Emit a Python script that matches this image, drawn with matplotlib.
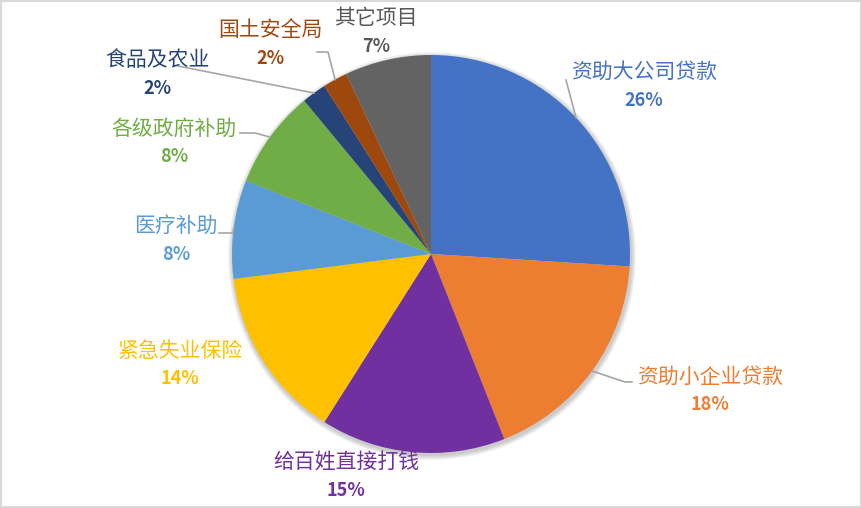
import numpy as np
import matplotlib.pyplot as plt
from matplotlib.patches import Circle, Rectangle

plt.rcParams['font.family'] = ['Noto Sans CJK SC', 'DejaVu Sans']

names = ['资助大公司贷款', '资助小企业贷款', '给百姓直接打钱', '紧急失业保险',
         '医疗补助', '各级政府补助', '食品及农业', '国土安全局', '其它项目']
values = [26, 18, 15, 14, 8, 8, 2, 2, 7]
colors = ['#4472C4', '#ED7D31', '#7030A0', '#FFC000', '#5B9BD5',
          '#70AD47', '#264478', '#9E480E', '#636363']
text_colors = colors[:8] + ['#595959']

W, H = 862, 508
cx, cy, R = 431, 254, 199

# label centres (pixels, from top-left)
label_pos = [(644, 72), (710, 377), (346, 463), (180, 351), (176, 226),
             (174, 129), (157, 60), (270, 30), (376, 18)]
# leader line points after the wedge edge (pixels), None = no leader
leaders = [[(566, 80)], [(625, 382), (632, 382)], None, None,
           [(233, 233), (219, 233)], [(255, 133), (240, 133)],
           [(178, 66)], [(328, 52), (317, 52)], None]


def fy(y):
    return H - y


fig = plt.figure(figsize=(W / 100, H / 100), dpi=100)
ax = fig.add_axes([0, 0, 1, 1])

# soft shadow
for k in range(6):
    ax.add_patch(Circle((cx + 1, fy(cy) - 2), R + 1 + k * 0.8, color='black',
                        alpha=0.035, lw=0, zorder=0))

wedges, _ = ax.pie(values, colors=colors, startangle=90, counterclock=False,
                   center=(cx, fy(cy)), radius=R, frame=True,
                   wedgeprops=dict(linewidth=0))

total = sum(values)
cum = np.cumsum([0] + values)
for i, name in enumerate(names):
    lx, ly = label_pos[i]
    ax.text(lx, fy(ly), name, ha='center', va='center', fontsize=15,
            fontweight='medium', color=text_colors[i])
    ax.text(lx, fy(ly + 28), f'{values[i] / total * 100:.0f}%', ha='center',
            va='center', fontsize=13, fontweight='bold', color=text_colors[i])
    if leaders[i]:
        mid = np.deg2rad(90 - 360 * (cum[i] + values[i] / 2) / total)
        xs = [cx + R * np.cos(mid)] + [p[0] for p in leaders[i]]
        ys = [fy(cy) + R * np.sin(mid)] + [fy(p[1]) for p in leaders[i]]
        ax.plot(xs, ys, color='#A6A6A6', lw=1.2, zorder=1)

ax.set_xlim(0, W)
ax.set_ylim(0, H)
ax.set_aspect('auto')
ax.axis('off')

fig.patches.append(Rectangle((0, 0), 1, 1, transform=fig.transFigure,
                             fill=False, edgecolor='#D9D9D9', lw=3))

fig.savefig('out.png', dpi=100)
